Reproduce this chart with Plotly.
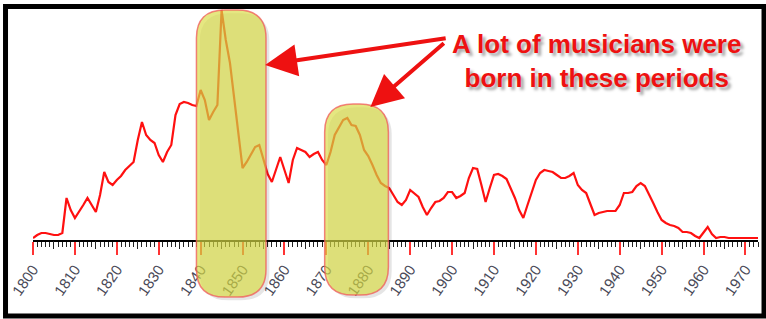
import plotly.graph_objects as go

# ---- data (relative number of musicians born per year) ----
years = list(range(1800, 1974))
births = [
    2, 5, 7, 7, 6, 5, 5, 7, 42, 30,            # 1800-1809
    22, 28, 35, 42, 35, 28, 45, 68, 58, 55,    # 1810-1819
    60, 64, 70, 74, 78, 100, 118, 105, 100, 97,  # 1820-1829
    85, 78, 88, 95, 125, 136, 138, 137, 135, 134,  # 1830-1839
    150, 140, 120, 128, 135, 230, 200, 177, 140, 105,  # 1840-1849
    72, 78, 85, 93, 95, 80, 66, 58, 70, 83,    # 1850-1859
    70, 57, 80, 92, 90, 88, 83, 86, 88, 80,    # 1860-1869
    75, 88, 105, 113, 120, 122, 115, 114, 105, 90,  # 1870-1879
    84, 75, 65, 57, 54, 52, 45, 38, 35, 40,    # 1880-1889
    50, 46, 43, 33, 25, 32, 38, 39, 42, 48,    # 1890-1899
    48, 42, 44, 47, 62, 72, 71, 55, 38, 52,    # 1900-1909
    65, 66, 64, 61, 52, 42, 30, 22, 35, 48,    # 1910-1919
    60, 67, 70, 69, 68, 65, 62, 62, 64, 67,    # 1920-1929
    55, 50, 47, 36, 25, 27, 28, 29, 29, 29,    # 1930-1939
    35, 47, 47, 48, 54, 57, 54, 46, 37, 28,    # 1940-1949
    20, 17, 15, 14, 12, 8, 8, 7, 4, 2,         # 1950-1959
    8, 13, 6, 2, 3, 3, 2, 2, 2, 2,             # 1960-1969
    2, 2, 2, 2,                                # 1970-1973
]
tick_years = list(range(1800, 1971, 10))
tick_labels = [str(y) for y in tick_years]
periods = [(1839.0, 1855.6), (1869.6, 1884.8)]
note_text = "A lot of musicians were<br>born in these periods"

X0, X1 = 1800, 1973
Y0, Y1 = 0, 232

fig = go.Figure()
fig.add_trace(go.Scatter(x=years, y=births, mode="lines",
                         line=dict(color="#ff1010", width=2.2), hoverinfo="skip"))

# 5-year medium ticks on an overlaid axis
fig.add_trace(go.Scatter(x=[X0, X1], y=[0, 0], xaxis="x2", mode="lines",
                         line=dict(width=0), hoverinfo="skip", showlegend=False))


def pill(x0, x1, y0, y1, rx, ry):
    return (f"M {x0+rx},{y1} L {x1-rx},{y1} Q {x1},{y1} {x1},{y1-ry} "
            f"L {x1},{y0+ry} Q {x1},{y0} {x1-rx},{y0} L {x0+rx},{y0} "
            f"Q {x0},{y0} {x0},{y0+ry} L {x0},{y1-ry} Q {x0},{y1} {x0+rx},{y1} Z")


shapes = []
tops = [0.991, 0.586]
bots = [-0.246, -0.237]
for (a, b), t, bt in zip(periods, tops, bots):
    shapes.append(dict(type="path", xref="x", yref="paper",
                       path=pill(a + 0.8, b + 0.8, bt - 0.014, t - 0.014, 6.8, 0.12),
                       fillcolor="rgba(0,0,0,0.10)", line=dict(width=0), layer="above"))
    shapes.append(dict(type="path", xref="x", yref="paper",
                       path=pill(a, b, bt, t, 6.8, 0.12),
                       fillcolor="rgba(216,220,70,0.68)",
                       line=dict(color="rgba(240,90,90,0.75)", width=1.5), layer="above"))

# outer black frame
shapes.append(dict(type="rect", xref="paper", yref="paper",
                   x0=-0.0379, x1=1.0083, y0=-0.3276, y1=1.0065,
                   line=dict(color="black", width=5), fillcolor="rgba(0,0,0,0)", layer="above"))

annotations = [
    dict(x=1855.4, y=175, xref="x", yref="y", ax=182, ay=-27, text="", showarrow=True,
         arrowhead=2, arrowsize=1.6, arrowwidth=4, arrowcolor="#ee1111"),
    dict(x=1880.5, y=133, xref="x", yref="y", ax=75, ay=-65, text="", showarrow=True,
         arrowhead=2, arrowsize=1.6, arrowwidth=4, arrowcolor="#ee1111"),
    dict(x=1934.4, y=179, xref="x", yref="y",
         text=note_text, showarrow=False, align="center",
         font=dict(family="Liberation Sans, Arial, sans-serif", size=26, color="#ee1111",
                   weight="bold", shadow="3px 3px 3px rgba(0,0,0,0.35)")),
]

fig.update_layout(
    width=766, height=319,
    margin=dict(l=33, r=8, t=8, b=79, autoexpand=False),
    paper_bgcolor="white", plot_bgcolor="white",
    showlegend=False,
    shapes=shapes, annotations=annotations,
    xaxis=dict(range=[X0, X1], showgrid=False, zeroline=False, automargin=False,
               showline=True, linecolor="black", linewidth=1.5,
               tickmode="array", tickvals=tick_years, ticktext=tick_labels,
               ticks="outside", ticklen=13, tickwidth=1.5, tickcolor="#ff3333",
               tickangle=-55,
               tickfont=dict(family="Liberation Sans, Arial, sans-serif", size=15, color="#4a4a58"),
               minor=dict(dtick=1, tick0=1800, ticks="outside", ticklen=5,
                          tickwidth=1, tickcolor="#222")),
    xaxis2=dict(range=[X0, X1], overlaying="x", anchor="y", side="bottom", automargin=False,
                showgrid=False, zeroline=False, showline=False,
                tick0=1805, dtick=10, ticks="outside", ticklen=8, tickwidth=1,
                tickcolor="#222", showticklabels=False),
    yaxis=dict(range=[Y0, Y1], visible=False, showgrid=False, zeroline=False, automargin=False),
)

fig.write_html("out.html", config={"displayModeBar": False},
               post_script="document.body.style.margin='0';document.body.style.overflow='hidden';")
